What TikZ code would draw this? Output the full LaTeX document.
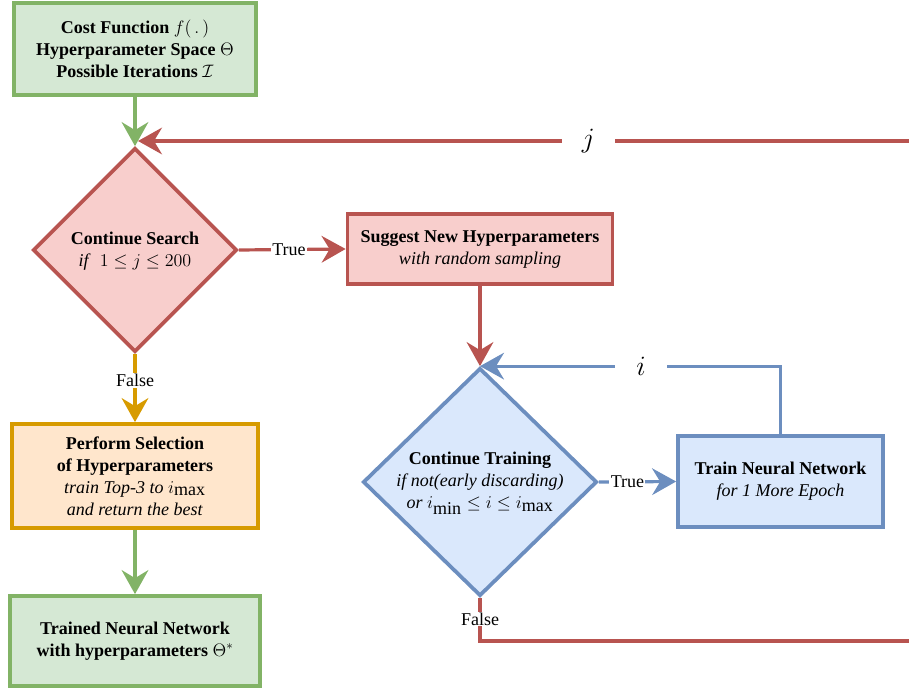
\RequirePackage{fix-cm}
\documentclass[tikz,border=0pt]{standalone}
\usepackage{fontspec}
\IfFontExistsTF{LiberationSerif-Regular.ttf}{%
  \setmainfont{LiberationSerif-Regular.ttf}[BoldFont=LiberationSerif-Bold.ttf,
    ItalicFont=LiberationSerif-Italic.ttf, BoldItalicFont=LiberationSerif-BoldItalic.ttf]}{%
  \setmainfont{Liberation Serif}}
\usetikzlibrary{shapes.geometric,arrows.meta,calc}
\definecolor{gfill}{HTML}{D5E8D4}\definecolor{gline}{HTML}{82B366}
\definecolor{rfill}{HTML}{F8CECC}\definecolor{rline}{HTML}{B85450}
\definecolor{ofill}{HTML}{FFE6CC}\definecolor{oline}{HTML}{D79B00}
\definecolor{bfill}{HTML}{DAE8FC}\definecolor{bline}{HTML}{6C8EBF}
\begin{document}
\begin{tikzpicture}[x=0.75pt,y=-0.75pt,
  font=\fontsize{13.5}{16.5}\selectfont,
  box/.style={draw, rectangle, line width=2.8pt, align=center, inner sep=0pt, text=black},
  dia/.style={draw, diamond, line width=2.8pt, inner sep=0pt},
  conn/.style={line width=2.4pt, -{Stealth[length=18pt,width=20pt,inset=6pt]}},
  plain/.style={line width=2.4pt},
  lbl/.style={fill=white, inner sep=1pt, text=black},
  big/.style={fill=white, inner sep=0pt, minimum height=20pt, text=black, font=\fontsize{21}{25}\selectfont}
]
\useasboundingbox (0,0) rectangle (909,691);

% nodes
\node[box, fill=gfill, draw=gline, minimum width=181.5pt, minimum height=69pt] (inp) at (135,49)
  {\textbf{Cost Function} $f(\,.\,)$\\ \textbf{Hyperparameter Space} $\Theta$\\ \textbf{Possible Iterations} $\mathcal{I}$};
\node[dia, fill=rfill, draw=rline, minimum width=153pt, minimum height=153pt] (d1) at (135,250) {};
\node[align=center, text=black] (d1t) at (135,251) {\textbf{Continue Search}\\ \textit{if} \ $1\leq j\leq 200$};
\node[box, fill=rfill, draw=rline, minimum width=198.75pt, minimum height=52.5pt] (sug) at (480,249)
  {\textbf{Suggest New Hyperparameters}\\ \textit{with random sampling}};
\node[dia, fill=bfill, draw=bline, minimum width=175.5pt, minimum height=171pt] (d2) at (480,482) {};
\node[align=center, text=black] (d2t) at (480,483) {\textbf{Continue Training}\\ \textit{if not(early discarding)}\\ \textit{or} $i_{\textstyle\mathrm{min}}\leq i\leq i_{\textstyle\mathrm{max}}$};
\node[box, fill=bfill, draw=bline, minimum width=153.75pt, minimum height=68.25pt] (trn) at (780.5,481.5)
  {\textbf{Train Neural Network}\\ \textit{for 1 More Epoch}};
\node[box, fill=ofill, draw=oline, minimum width=184.5pt, minimum height=78pt] (sel) at (135,476)
  {\textbf{Perform Selection}\\ \textbf{of Hyperparameters}\\ \textit{train Top-3 to} $i_{\textstyle\mathrm{max}}$\\ \textit{and return the best}};
\node[box, fill=gfill, draw=gline, minimum width=187.5pt, minimum height=67.5pt] (out) at (135,641)
  {\textbf{Trained Neural Network}\\ \textbf{with hyperparameters} $\Theta^{*}$};

\coordinate (jstart) at (909,141);
\coordinate (jtip) at (138,141);
\coordinate (fend) at (909,641);

% connectors
\draw[conn, gline] (inp.south) -- (d1.north);
\draw[conn, rline] (jstart) -- node[big, pos=0.416, minimum width=40pt] {$j$} (jtip);
\draw[conn, rline] (d1.east) -- node[lbl, pos=0.47] {True} (sug.west);
\draw[conn, oline] (d1.south) -- node[lbl, pos=0.39] {False} (sel.north);
\draw[conn, gline] (sel.south) -- (out.north);
\draw[conn, rline] (sug.south) -- (d2.north);
\draw[conn, bline] (d2.east) -- node[lbl, pos=0.37] {True} (trn.west);
\draw[conn, bline] (trn.north) |- node[big, pos=0.732, minimum width=39pt] {$i$} (d2.north);
\draw[plain, rline] (d2.south) -- node[lbl, inner sep=0.5pt] {False} (d2.south |- fend) -- (fend);
\end{tikzpicture}
\end{document}
